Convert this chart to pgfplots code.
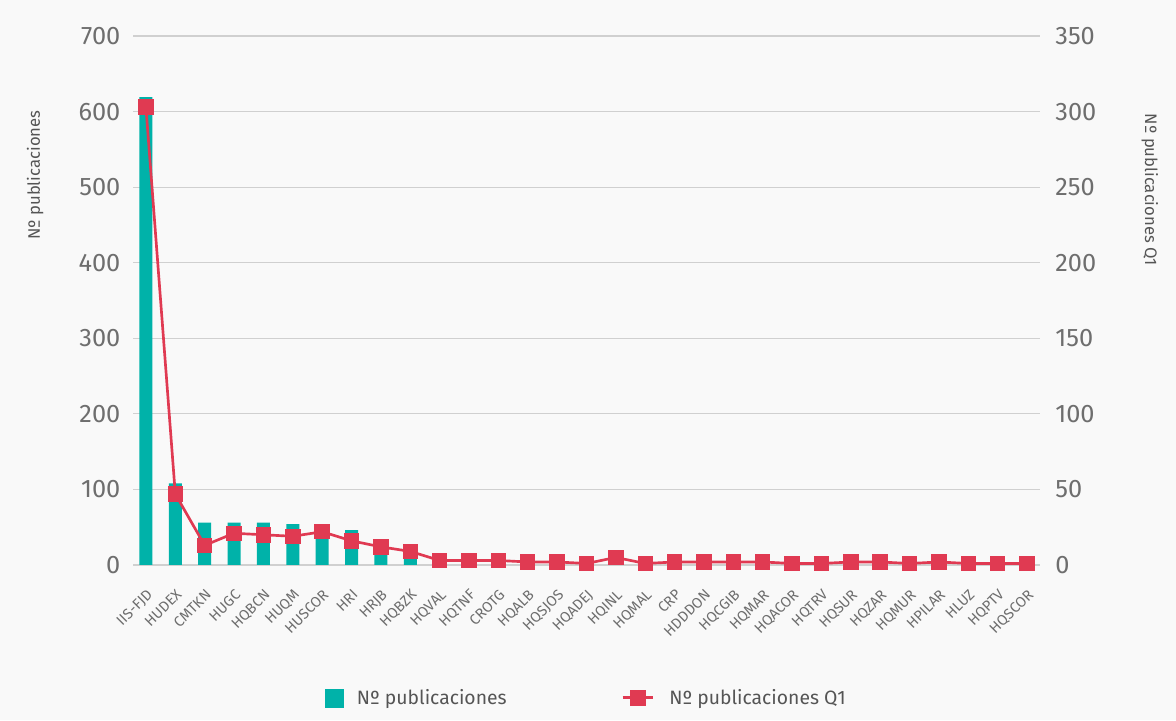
\documentclass[border=0pt]{standalone}
\usepackage{fontspec}
\setmainfont{Fira Sans}
\usepackage{pgfplots}
\usepackage{pgfplotstable}
\pgfplotsset{compat=1.18}
\definecolor{bg}{HTML}{F9F9F9}
\definecolor{barc}{HTML}{00B2A9}
\definecolor{linec}{HTML}{E03A52}
\definecolor{txt}{HTML}{6E6E6E}
\definecolor{lbl}{HTML}{555555}
\definecolor{grd}{HTML}{D0D0D0}

\pgfplotstableread{
x name bars q1
0 IIS-FJD 619 303
1 HUDEX 108 47
2 CMTKN 56 13
3 HUGC 56 21
4 HQBCN 56 20
5 HUQM 54 19
6 HUSCOR 50 22
7 HRI 46 16
8 HRJB 25 12
9 HQBZK 20 9
10 HQVAL 8 3
11 HQTNF 7 3
12 CROTG 7 3
13 HQALB 5 2
14 HQSJOS 5 2
15 HQADEJ 3 1
16 HQINL 10 5
17 HQMAL 3 1
18 CRP 4 2
19 HDDDON 4 2
20 HQCGIB 4 2
21 HQMAR 4 2
22 HQACOR 2 1
23 HQTRV 2 1
24 HQSUR 4 2
25 HQZAR 4 2
26 HQMUR 2 1
27 HPILAR 3 2
28 HLUZ 2 1
29 HQPTV 2 1
30 HQSCOR 2 1
}\data

\pgfplotsset{
  common/.style={
    scale only axis,
    width=680.25pt, height=396.75pt,
    at={(0pt,0pt)}, anchor=south west,
    xmin=-0.44, xmax=30.44,
    ymin=0,
    axis line style={draw=none},
    major tick style={draw=none},
    /pgf/number format/assume math mode=true,
    tick label style={font=\fontsize{19}{22}\selectfont, text=txt},
  },
  mylegline/.style={legend image code/.code={\draw[mark repeat=2,mark phase=2,##1] plot coordinates {(0pt,0pt) (11.5pt,0pt) (23pt,0pt)};\path[draw=none,fill=none] (0pt,-1pt) rectangle (33pt,1pt);}},
}

\begin{document}
\begin{tikzpicture}
\path[use as bounding box, fill=bg] (-99.75pt,-116.25pt) rectangle (782.25pt,423.75pt);
\begin{axis}[common,
  ymax=700, ytick={0,100,...,700},
  ymajorgrids, grid style={grd, line width=0.8pt},
  xtick=data,
  xticklabels from table={\data}{name},
  xticklabel style={xshift=0pt, yshift=-16pt, font=\fontsize{11}{13}\selectfont, text=txt, rotate=45, anchor=north east, inner sep=1pt},
  yticklabel style={xshift=-6pt},
  ylabel={Nº publicaciones},
  every axis y label/.style={at={(axis description cs:-0.108,0.737)}, rotate=90, anchor=center, font=\fontsize{12.5}{14}\selectfont, text=lbl},
]
\addplot[ybar, bar width=9.75pt, bar shift=0pt, fill=barc, draw=none] table[x=x, y=bars] {\data};
\end{axis}
\begin{axis}[common,
  ymax=350, ytick={0,50,...,350},
  axis y line*=right,
  axis x line=none,
  yticklabel style={xshift=8pt},
  ylabel={Nº publicaciones Q1},
  every axis y label/.style={at={(axis description cs:1.121,0.709)}, rotate=-90, anchor=center, font=\fontsize{12.5}{14}\selectfont, text=lbl},
  legend style={at={(axis description cs:0.5,-0.251)}, anchor=center, draw=none, fill=none,
    font=\fontsize{14.5}{16}\selectfont, text=lbl,
    /tikz/every even column/.append style={column sep=84pt}},
  legend columns=2,
]
\addlegendimage{legend image code/.code={\fill[barc] (0pt,-6.75pt) rectangle (13.5pt,6.75pt);\path[draw=none,fill=none] (0pt,-1pt) rectangle (22pt,1pt);}}
\addlegendentry{Nº publicaciones}
\addplot[linec, line width=2pt, mark=square*, mark size=4.8pt, mylegline]
  table[x=x, y=q1] {\data};
\addlegendentry{Nº publicaciones Q1}
\end{axis}
\end{tikzpicture}
\end{document}
